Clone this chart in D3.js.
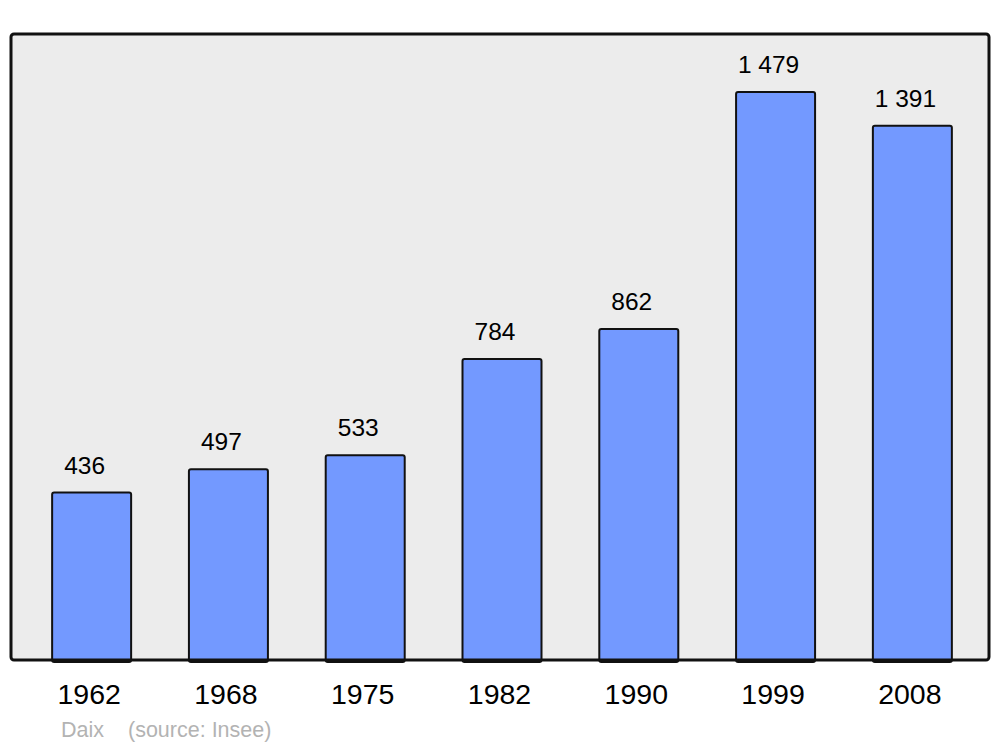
<!DOCTYPE html>
<html><head><meta charset="utf-8">
<script src="https://cdn.jsdelivr.net/npm/d3@7"></script>
<style>html,body{margin:0;padding:0;background:#fff;}</style>
</head><body>
<svg id="c" width="1000" height="747"></svg>
<script>
const years = ["1962","1968","1975","1982","1990","1999","2008"];
const population = [436, 497, 533, 784, 862, 1479, 1391];
const valueLabels = ["436","497","533","784","862","1 479","1 391"];
const footer = ["Daix", "(source: Insee)"];

const svg = d3.select("#c");
const font = "'Liberation Sans', Arial, sans-serif";
const panel = {x0: 11, x1: 989, y0: 34, y1: 660};

svg.append("rect").attr("x", panel.x0).attr("y", panel.y0)
  .attr("width", panel.x1 - panel.x0).attr("height", panel.y1 - panel.y0)
  .attr("rx", 3).attr("fill", "#ececec");

const x = d3.scaleBand().domain(years).range([23, 981]).paddingInner(0.4225).paddingOuter(0.213);
const y = d3.scaleLinear().domain([0, 1630]).range([panel.y1, panel.y0]);

svg.selectAll("rect.bar").data(years).enter().append("rect").attr("class","bar")
  .attr("x", d => x(d)).attr("width", x.bandwidth())
  .attr("y", (d,i) => y(population[i])).attr("height", (d,i) => y(0) - y(population[i]) + 2)
  .attr("rx", 2).attr("fill", "#7399ff").attr("stroke", "#111").attr("stroke-width", 2);

svg.selectAll("text.val").data(years).enter().append("text").attr("class","val")
  .attr("x", d => x(d) + x.bandwidth()/2 - 7).attr("y", (d,i) => y(population[i]) - 19)
  .attr("text-anchor","middle").attr("font-family", font).attr("font-size", 24.5).attr("fill","#000")
  .text((d,i) => valueLabels[i]);

svg.append("rect").attr("x", panel.x0).attr("y", panel.y0)
  .attr("width", panel.x1 - panel.x0).attr("height", panel.y1 - panel.y0)
  .attr("rx", 3).attr("fill", "none").attr("stroke", "#111").attr("stroke-width", 3);

const xAxis = d3.axisBottom(x).tickSize(0).tickPadding(0);
const g = svg.append("g").attr("transform", `translate(0,${panel.y1})`).call(xAxis);
g.select(".domain").remove();
g.selectAll("text").attr("font-family", font).attr("font-size", 28.5).attr("fill","#000")
  .attr("dy", null).attr("y", 44).attr("dx", -2.5);

svg.append("text").attr("x", 61).attr("y", 737).attr("font-family", font).attr("font-size", 21.5)
  .attr("fill", "#b3b3b3").text(footer[0]);
svg.append("text").attr("x", 128).attr("y", 737).attr("font-family", font).attr("font-size", 21.5)
  .attr("fill", "#b3b3b3").text(footer[1]);
</script>
</body></html>
